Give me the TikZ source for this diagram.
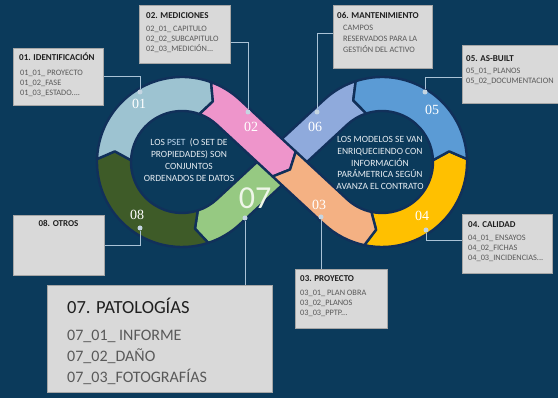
\documentclass[tikz,border=0pt]{standalone}
\usepackage{fontspec}
\setmainfont{Carlito}
\newfontfamily\numfont{Liberation Serif}
\usetikzlibrary{calc}
\definecolor{bg}{HTML}{0B3A5B}
\definecolor{gapc}{HTML}{11305A}
\definecolor{c01}{HTML}{9DC3D1}
\definecolor{c02}{HTML}{EE95CB}
\definecolor{c03}{HTML}{F4B183}
\definecolor{c04}{HTML}{FFC000}
\definecolor{c05}{HTML}{5B9BD5}
\definecolor{c06}{HTML}{8FAADC}
\definecolor{c07}{HTML}{96C982}
\definecolor{c08}{HTML}{3E5B28}
\definecolor{boxfill}{HTML}{D9D9D9}
\definecolor{boxdraw}{HTML}{A6A6A6}
\definecolor{callc}{HTML}{A9C2D6}
\definecolor{dotc}{HTML}{C5D5E2}
\definecolor{ttlc}{HTML}{1F1F1F}
\definecolor{itmc}{HTML}{595959}
\definecolor{ctc}{HTML}{E8EEF3}
\definecolor{pset}{HTML}{BDD7EE}
\definecolor{n07c}{HTML}{EEF6E8}
\def\ringout{85}
\def\ringin{51}
\def\ringmid{68}
\def\halfw{17}
\begin{document}
\begin{tikzpicture}[x=1pt,y=1pt,
  seg/.style={draw=gapc, line width=2.4pt, line join=round},
  infobox/.style={rectangle, fill=boxfill, draw=boxdraw, line width=0.6pt, anchor=north west, inner sep=0pt},
  ttl/.style={font=\fontsize{9}{11}\selectfont\bfseries, text=ttlc, inner sep=0pt, anchor=base west},
  itm/.style={font=\fontsize{8.3}{10}\selectfont, text=itmc, inner sep=0pt, anchor=base west},
  bigttl/.style={font=\fontsize{18.5}{21}\selectfont, text=ttlc, inner sep=0pt, anchor=base west},
  bigitm/.style={font=\fontsize{16}{19}\selectfont, text=itmc, inner sep=0pt, anchor=base west},
  num/.style={font=\numfont\fontsize{14}{16}\selectfont, text=white},
  dot/.style={circle, fill=dotc, inner sep=0pt, minimum size=5pt},
  call/.style={draw=callc, line width=0.9pt},
  ctext/.style={align=center, text=ctc, font=\fontsize{9.5}{11.8}\selectfont}
]
\useasboundingbox (0,0) rectangle (558,-398);
\clip (0,0) rectangle (558,-398);
\fill[bg] (0,0) rectangle (558,-398);

\coordinate (CL) at (182,-162);
\coordinate (CR) at (382,-162);
\coordinate (P) at (282,-162);
\coordinate (Aout) at ($(P)+(47.16:\halfw)+(-42.84:3)$);
\coordinate (Ain) at ($(P)+(227.16:\halfw)+(-42.84:3)$);
\coordinate (Atip) at ($(P)+(-42.84:11)$);
\coordinate (Bup) at ($(P)+(132.84:\halfw)$);
\coordinate (Blo) at ($(P)+(312.84:\halfw)$);
\coordinate (Btip) at ($(P)+(222.84:7)$);

% 06
\filldraw[seg, fill=c06] ($(CR)+(468:\ringout)$) arc[start angle=468, end angle=492.84, radius=\ringout] -- (Bup) -- (Btip) -- (Blo) -- ($(CR)+(492.84:\ringin)$) arc[start angle=492.84, end angle=468, radius=\ringin] -- ($(CR)+(475:\ringmid)$) -- cycle;
% 07
\filldraw[seg, fill=c07] (Blo) -- ($(CL)+(312.84:\ringout)$) arc[start angle=312.84, end angle=288, radius=\ringout] -- ($(CL)+(281:\ringmid)$) -- ($(CL)+(288:\ringin)$) arc[start angle=288, end angle=312.84, radius=\ringin] -- (Bup) -- (Btip) -- cycle;
% 08
\filldraw[seg, fill=c08] ($(CL)+(288:\ringout)$) arc[start angle=288, end angle=178, radius=\ringout] -- ($(CL)+(171:\ringmid)$) -- ($(CL)+(178:\ringin)$) arc[start angle=178, end angle=288, radius=\ringin] -- ($(CL)+(281:\ringmid)$) -- cycle;
% 01
\filldraw[seg, fill=c01] ($(CL)+(178:\ringout)$) arc[start angle=178, end angle=70, radius=\ringout] -- ($(CL)+(63:\ringmid)$) -- ($(CL)+(70:\ringin)$) arc[start angle=70, end angle=178, radius=\ringin] -- ($(CL)+(171:\ringmid)$) -- cycle;
% 04
\filldraw[seg, fill=c04] ($(CR)+(258:\ringout)$) arc[start angle=258, end angle=362, radius=\ringout] -- ($(CR)+(369:\ringmid)$) -- ($(CR)+(362:\ringin)$) arc[start angle=362, end angle=258, radius=\ringin] -- ($(CR)+(265:\ringmid)$) -- cycle;
% 05
\filldraw[seg, fill=c05] ($(CR)+(362:\ringout)$) arc[start angle=362, end angle=468, radius=\ringout] -- ($(CR)+(475:\ringmid)$) -- ($(CR)+(468:\ringin)$) arc[start angle=468, end angle=362, radius=\ringin] -- ($(CR)+(369:\ringmid)$) -- cycle;
% 02
\filldraw[seg, fill=c02] ($(CL)+(70:\ringout)$) arc[start angle=70, end angle=47.16, radius=\ringout] -- (Aout) -- (Atip) -- (Ain) -- ($(CL)+(47.16:\ringin)$) arc[start angle=47.16, end angle=70, radius=\ringin] -- ($(CL)+(63:\ringmid)$) -- cycle;
% 03
\filldraw[seg, fill=c03] (Ain) -- ($(CR)+(227.16:\ringout)$) arc[start angle=227.16, end angle=258, radius=\ringout] -- ($(CR)+(265:\ringmid)$) -- ($(CR)+(258:\ringin)$) arc[start angle=258, end angle=227.16, radius=\ringin] -- (Aout) -- (Atip) -- cycle;

% centre texts
\node[ctext] (lt) at (189,-160) {LOS {\color{pset}PSET}\ \ (O SET DE\\PROPIEDADES) SON\\CONJUNTOS\\ORDENADOS DE DATOS};
\node[ctext] (rt) at (380,-163) {LOS MODELOS SE VAN\\ENRIQUECIENDO CON\\INFORMACIÓN\\PARÁMETRICA SEGÚN\\AVANZA EL CONTRATO};

% numbers
\node[num] (n01) at (139,-104) {01};
\node[num] (n02) at (251,-127) {02};
\node[num] (n03) at (319,-205) {03};
\node[num] (n04) at (422,-216) {04};
\node[num] (n05) at (432,-110) {05};
\node[num] (n06) at (315,-127) {06};
\node[num] (n08) at (137,-215) {08};
\node[font=\fontsize{32}{34}\selectfont, text=n07c] (n07) at (255,-198) {07};

% boxes
\node[infobox, minimum width=90pt, minimum height=57pt] (b01) at (13,-48) {};
\node[infobox, minimum width=91pt, minimum height=58pt] (b02) at (139,-5) {};
\node[infobox, minimum width=99pt, minimum height=63pt] (b06) at (333,-5) {};
\node[infobox, minimum width=110pt, minimum height=58pt] (b05) at (462,-45) {};
\node[infobox, minimum width=90pt, minimum height=59pt] (b04) at (462,-214) {};
\node[infobox, minimum width=92pt, minimum height=59pt] (b03) at (295,-269) {};
\node[infobox, minimum width=91pt, minimum height=60pt] (b08) at (13,-215) {};
\node[infobox, minimum width=225pt, minimum height=107pt] (b07) at (47,-285) {};

% box texts
\node[ttl] (t01) at (19,-60.2) {01. IDENTIFICACIÓN};
\node[itm] (t01a) at (20,-75.7) {01\_01\_ PROYECTO};
\node[itm] (t01b) at (20,-85.7) {01\_02\_FASE};
\node[itm] (t01c) at (20,-95.4) {01\_03\_ESTADO....};

\node[ttl] (t02) at (146,-18.7) {02. MEDICIONES};
\node[itm] (t02a) at (146,-31.7) {02\_01\_ CAPITULO};
\node[itm] (t02b) at (146,-41.7) {02\_02\_SUBCAPITULO};
\node[itm] (t02c) at (146,-51.7) {02\_03\_MEDICIÓN...};

\node[ttl] (t06) at (337,-18.2) {06. MANTENIMIENTO};
\node[itm] (t06a) at (343,-30.7) {CAMPOS};
\node[itm] (t06b) at (343,-41.7) {RESERVADOS PARA LA};
\node[itm] (t06c) at (343,-52.7) {GESTIÓN DEL ACTIVO};

\node[ttl] (t05) at (466,-61.2) {05. AS-BUILT};
\node[itm] (t05a) at (466,-73.7) {05\_01\_ PLANOS};
\node[itm] (t05b) at (466,-83.7) {05\_02\_DOCUMENTACION};

\node[ttl] (t04) at (468,-227.2) {04. CALIDAD};
\node[itm] (t04a) at (468,-240.7) {04\_01\_ ENSAYOS};
\node[itm] (t04b) at (468,-250.7) {04\_02\_FICHAS};
\node[itm] (t04c) at (468,-260.7) {04\_03\_INCIDENCIAS...};

\node[ttl] (t03) at (300,-281.2) {03. PROYECTO};
\node[itm] (t03a) at (300,-295.7) {03\_01\_ PLAN OBRA};
\node[itm] (t03b) at (300,-305.7) {03\_02\_PLANOS};
\node[itm] (t03c) at (300,-315.7) {03\_03\_PPTP...};

\node[font=\fontsize{9}{11}\selectfont\bfseries, text=ttlc] (t08) at (58.5,-223) {08. OTROS};

\node[bigttl] (t07) at (67,-314) {07. PATOLOGÍAS};
\node[bigitm] (t07a) at (67,-340.2) {07\_01\_ INFORME};
\node[bigitm] (t07b) at (67,-361.2) {07\_02\_DAÑO};
\node[bigitm] (t07c) at (67,-382.2) {07\_03\_FOTOGRAFÍAS};

% dots
\node[dot] (d01) at (140,-92) {};
\node[dot] (d02) at (248,-112) {};
\node[dot] (d03) at (321,-217) {};
\node[dot] (d04) at (426,-230) {};
\node[dot] (d05) at (425,-92) {};
\node[dot] (d06) at (317,-112) {};
\node[dot] (d07) at (245,-218) {};
\node[dot] (d08) at (140,-228) {};

% callout lines
\draw[call] (d01) |- (b01);
\draw[call] (d02) |- ($(b02.east)+(0,-8)$);
\draw[call] (d06) |- ($(b06.west)+(0,3.5)$);
\draw[call] (d05) |- ($(b05.west)+(0,-3.5)$);
\draw[call] (d04) |- ($(b04.west)+(0,3.5)$);
\draw[call] (d03) -- (d03 |- b03.north);
\draw[call] (d07) -- (d07 |- b07.north);
\draw[call] (d08) |- (b08);
\end{tikzpicture}
\end{document}
